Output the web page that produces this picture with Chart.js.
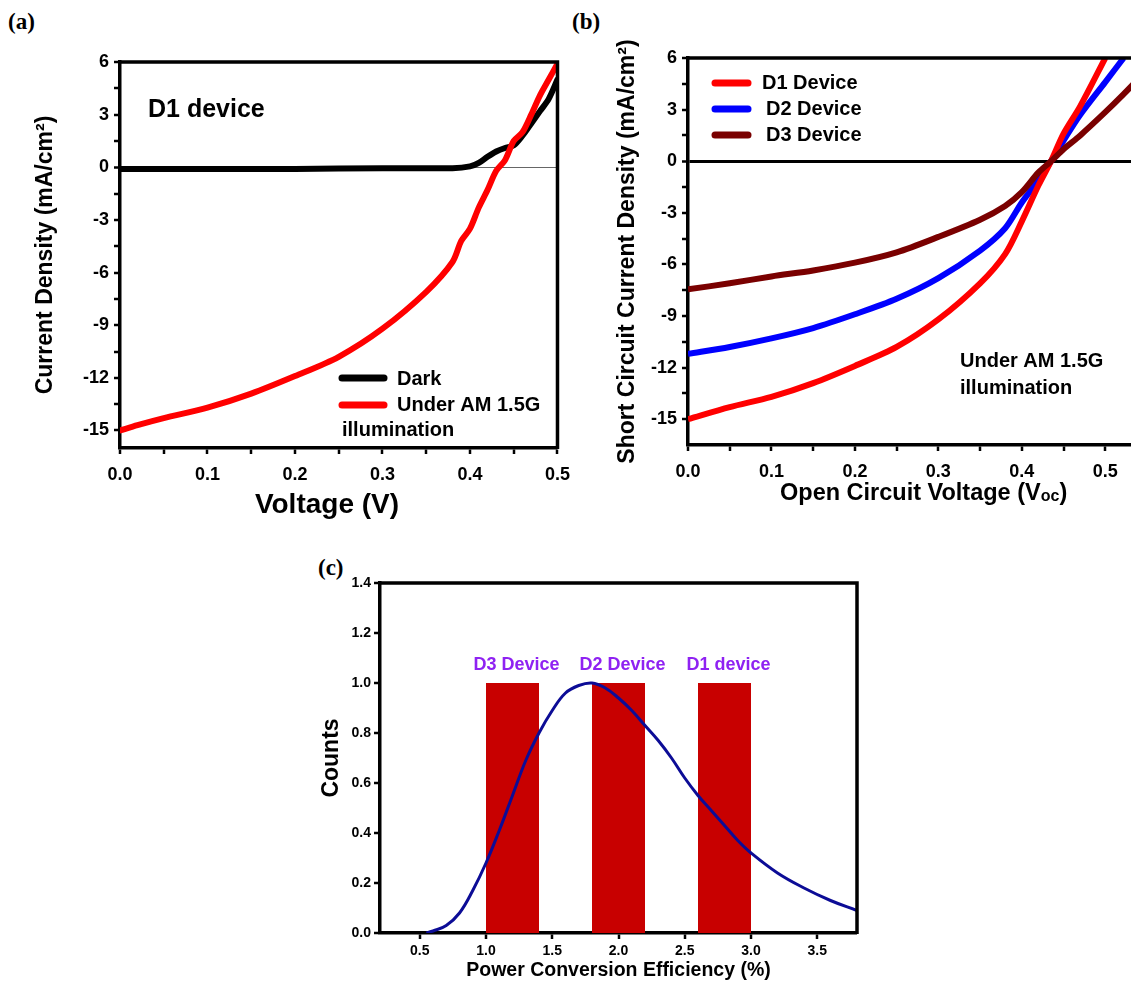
<!DOCTYPE html>
<html>
<head>
<meta charset="utf-8">
<script src="https://cdn.jsdelivr.net/npm/chart.js@4.4.1/dist/chart.umd.min.js"></script>
<style>
html, body { margin: 0; padding: 0; background: #fff; overflow: hidden; width: 1131px; height: 982px; position: relative; }
canvas { position: absolute; }
.tag { position: absolute; font: bold 23px "Liberation Serif", serif; color: #000; }
</style>
</head>
<body>
<div class="tag" style="left:8px;top:9px">(a)</div>
<div class="tag" style="left:572px;top:9px">(b)</div>
<div class="tag" style="left:318px;top:555px">(c)</div>
<canvas id="chartA" width="580" height="525" style="left:0;top:0"></canvas>
<canvas id="chartB" width="620" height="525" style="left:570px;top:0"></canvas>
<canvas id="chartC" width="580" height="437" style="left:300px;top:545px"></canvas>
<script>
// ---- (a) D1 device, dark vs light
var aVolt  = [0, 0.02, 0.05, 0.1, 0.15, 0.2, 0.25, 0.3, 0.35, 0.38, 0.39, 0.4, 0.41, 0.42, 0.43, 0.44, 0.45, 0.46, 0.47, 0.48, 0.49, 0.5];
var aLight = [-15, -14.7, -14.3, -13.7, -12.9, -11.9, -10.8, -9.2, -7.1, -5.4, -4.2, -3.5, -2.3, -1.3, -0.2, 0.4, 1.5, 2.0, 3.0, 4.1, 5.0, 5.9];
var darkVolt = [0, 0.1, 0.2, 0.3, 0.38, 0.4, 0.41, 0.42, 0.43, 0.44, 0.45, 0.46, 0.47, 0.48, 0.49, 0.5];
var aDark    = [-0.1, -0.1, -0.1, -0.05, -0.05, 0.05, 0.25, 0.6, 0.9, 1.1, 1.25, 1.8, 2.5, 3.2, 3.9, 5.0];
var aYTicks  = [-15, -13.5, -12, -10.5, -9, -7.5, -6, -4.5, -3, -1.5, 0, 1.5, 3, 4.5, 6];
var aYLabels = ['-15', '', '-12', '', '-9', '', '-6', '', '-3', '', '0', '', '3', '', '6'];
var aXTicks  = [0, 0.05, 0.1, 0.15, 0.2, 0.25, 0.3, 0.35, 0.4, 0.45, 0.5];
var aXLabels = ['0.0', '', '0.1', '', '0.2', '', '0.3', '', '0.4', '', '0.5'];

// ---- (b) three devices under AM 1.5G
var bVolt = [0, 0.05, 0.1, 0.15, 0.2, 0.25, 0.3, 0.35, 0.38, 0.4, 0.42, 0.435, 0.45, 0.47, 0.5, 0.522, 0.55];
var d1J = [-15, -14.3, -13.7, -12.9, -11.9, -10.8, -9.2, -7.1, -5.4, -3.5, -1.4, 0, 1.6, 3.2, 6.0, null, null];
var d2J = [-11.2, -10.8, -10.3, -9.7, -8.9, -8.0, -6.8, -5.2, -3.9, -2.4, -1.1, 0, 1.2, 2.7, 4.6, 6.0, null];
var d3J = [-7.45, -7.1, -6.7, -6.35, -5.9, -5.3, -4.4, -3.4, -2.6, -1.8, -0.65, 0, 0.7, 1.5, 2.85, 3.9, 5.3];
var bNames = ['D1 Device', 'D2 Device', 'D3 Device'];
var bYTicks  = [-15, -13.5, -12, -10.5, -9, -7.5, -6, -4.5, -3, -1.5, 0, 1.5, 3, 4.5, 6];
var bYLabels = ['-15', '', '-12', '', '-9', '', '-6', '', '-3', '', '0', '', '3', '', '6'];
var bXTicks  = [0, 0.05, 0.1, 0.15, 0.2, 0.25, 0.3, 0.35, 0.4, 0.45, 0.5, 0.55];
var bXLabels = ['0.0', '', '0.1', '', '0.2', '', '0.3', '', '0.4', '', '0.5', ''];

// ---- (c) PCE histogram + fit
var binLo  = [1.0, 1.8, 2.6];
var binHi  = [1.4, 2.2, 3.0];
var counts = [1, 1, 1];
var binNames = ['D3 Device', 'D2 Device', 'D1 device'];
var fitX = [0.55, 0.6, 0.7, 0.8, 0.9, 1.0, 1.1, 1.2, 1.3, 1.4, 1.5, 1.6, 1.7, 1.8, 1.9, 2.0, 2.1, 2.2, 2.3, 2.4, 2.5, 2.6, 2.7, 2.8, 2.9, 3.0, 3.2, 3.4, 3.6, 3.8];
var fitY = [0, 0.008, 0.03, 0.08, 0.17, 0.28, 0.41, 0.55, 0.69, 0.8, 0.89, 0.96, 0.99, 1.0, 0.98, 0.94, 0.89, 0.83, 0.77, 0.7, 0.62, 0.55, 0.49, 0.43, 0.37, 0.32, 0.24, 0.18, 0.13, 0.09];
var cYTicks  = [0, 0.2, 0.4, 0.6, 0.8, 1.0, 1.2, 1.4];
var cYLabels = ['0.0', '0.2', '0.4', '0.6', '0.8', '1.0', '1.2', '1.4'];
var cXTicks  = [0.5, 1.0, 1.5, 2.0, 2.5, 3.0, 3.5];
var cXLabels = ['0.5', '1.0', '1.5', '2.0', '2.5', '3.0', '3.5'];

var FONT = '"Liberation Sans", Arial, sans-serif';

function pts(xs, ys) {
	return xs.map(function (x, i) { return { x: x, y: ys[i] }; }).filter(function (p) { return p.y !== null; });
}

// box round the plot (top + right sides, axes draw the rest)
var framePlugin = {
	id: 'frame',
	afterDatasetsDraw: function (chart, args, opts) {
		var a = chart.chartArea, ctx = chart.ctx;
		ctx.save();
		ctx.strokeStyle = '#000';
		ctx.lineWidth = opts.width || 3.5;
		ctx.beginPath();
		ctx.moveTo(a.left - 1, a.top);
		ctx.lineTo(a.right, a.top);
		ctx.lineTo(a.right, a.bottom + 1);
		ctx.stroke();
		ctx.restore();
	}
};

// free text, legend samples, titles with subscripts
var notesPlugin = {
	id: 'notes',
	afterDraw: function (chart, args, opts) {
		var ctx = chart.ctx;
		(opts.items || []).forEach(function (it) {
			ctx.save();
			if (it.line) {
				ctx.strokeStyle = it.line;
				ctx.lineWidth = it.width || 7;
				ctx.lineCap = 'round';
				ctx.beginPath();
				ctx.moveTo(it.x1, it.y);
				ctx.lineTo(it.x2, it.y);
				ctx.stroke();
			}
			if (it.text) {
				ctx.fillStyle = it.color || '#000';
				ctx.font = 'bold ' + it.size + 'px ' + FONT;
				ctx.textBaseline = 'middle';
				ctx.textAlign = it.align || 'left';
				ctx.fillText(it.text, it.x, it.y);
			}
			if (it.runs) {
				ctx.fillStyle = '#000';
				ctx.textBaseline = 'alphabetic';
				ctx.textAlign = 'left';
				var x = it.x;
				it.runs.forEach(function (r) {
					ctx.font = 'bold ' + r.size + 'px ' + FONT;
					ctx.fillText(r.text, x, it.y + (r.dy || 0));
					x += ctx.measureText(r.text).width;
				});
			}
			ctx.restore();
		});
	}
};

// device names above the histogram bars
var binLabelPlugin = {
	id: 'binLabels',
	afterDatasetsDraw: function (chart, args, opts) {
		if (!opts.names) return;
		var ctx = chart.ctx, xs = chart.scales.x, ys = chart.scales.y;
		ctx.save();
		ctx.fillStyle = opts.color;
		ctx.font = 'bold ' + opts.size + 'px ' + FONT;
		ctx.textAlign = 'center';
		ctx.textBaseline = 'middle';
		opts.names.forEach(function (n, i) {
			var cx = xs.getPixelForValue((binLo[i] + binHi[i]) / 2 + 0.03);
			var cy = ys.getPixelForValue(counts[i]) - opts.gap;
			ctx.fillText(n, cx, cy);
		});
		ctx.restore();
	}
};

Chart.register(framePlugin, notesPlugin, binLabelPlugin);

function axis(kind, o) {
	return {
		type: 'linear',
		min: o.min,
		max: o.max,
		offset: false,
		afterBuildTicks: function (s) { s.ticks = o.ticks.map(function (v) { return { value: v }; }); },
		afterFit: function (s) { if (kind === 'x') s.height = o.size; else s.width = o.size; },
		ticks: {
			autoSkip: false, maxRotation: 0, minRotation: 0, color: '#000', padding: o.labelPad,
			font: { family: FONT, weight: 'bold', size: o.fontSize },
			callback: function (v, i) { return o.labels[i]; }
		},
		grid: {
			drawOnChartArea: !!o.zero,
			color: function (c) { return (o.zero && c.tick && c.tick.value === 0) ? o.zero.color : 'rgba(0,0,0,0)'; },
			lineWidth: function (c) { return (o.zero && c.tick && c.tick.value === 0) ? o.zero.width : 0; },
			tickColor: '#000', tickWidth: 2.5, tickLength: 6
		},
		border: { display: true, color: '#000', width: 3.5 },
		title: {
			display: !!o.title, text: o.title || '', color: '#000', padding: o.titlePad,
			font: { family: FONT, weight: 'bold', size: o.titleSize || 12, lineHeight: 1.2 }
		}
	};
}

// ---------- panel (a)
new Chart(document.getElementById('chartA'), {
	type: 'line',
	data: {
		datasets: [
			{ label: 'Under AM 1.5G illumination', data: pts(aVolt, aLight), borderColor: '#ff0000', borderWidth: 6, pointRadius: 0, tension: 0.3, borderCapStyle: 'round' },
			{ label: 'Dark', data: pts(darkVolt, aDark), borderColor: '#000000', borderWidth: 6, pointRadius: 0, tension: 0.3, borderCapStyle: 'round' }
		]
	},
	options: {
		responsive: false, animation: false,
		layout: { padding: { left: 0, top: 62, right: 20, bottom: 0 } },
		scales: {
			x: axis('x', { min: 0, max: 0.5, ticks: aXTicks, labels: aXLabels, fontSize: 18, labelPad: 10, size: 77 }),
			y: axis('y', { min: -16, max: 6, ticks: aYTicks, labels: aYLabels, fontSize: 18, labelPad: 5, size: 120,
				title: 'Current Density (mA/cm²)', titleSize: 23, titlePad: { top: 32, bottom: 0 },
				zero: { color: '#666', width: 1 } })
		},
		plugins: {
			legend: { display: false }, tooltip: { enabled: false },
			frame: { width: 3.5 },
			notes: { items: [
				{ text: 'Voltage (V)', x: 327, y: 505, size: 28, align: 'center' },
				{ text: 'D1 device', x: 148, y: 110, size: 25 },
				{ line: '#000000', x1: 342, x2: 384, y: 378, width: 7 },
				{ text: 'Dark', x: 397, y: 379, size: 20 },
				{ line: '#ff0000', x1: 342, x2: 384, y: 405, width: 7 },
				{ text: 'Under AM 1.5G', x: 397, y: 405, size: 20 },
				{ text: 'illumination', x: 342, y: 430, size: 20 }
			] }
		}
	}
});

// ---------- panel (b)
new Chart(document.getElementById('chartB'), {
	type: 'line',
	data: {
		datasets: [
			{ label: bNames[0], data: pts(bVolt, d1J), borderColor: '#ff0000', borderWidth: 6, pointRadius: 0, tension: 0.3, order: 1 },
			{ label: bNames[1], data: pts(bVolt, d2J), borderColor: '#0000ff', borderWidth: 6, pointRadius: 0, tension: 0.3, order: 2 },
			{ label: bNames[2], data: pts(bVolt, d3J), borderColor: '#7a0000', borderWidth: 6, pointRadius: 0, tension: 0.3, order: 0 }
		]
	},
	options: {
		responsive: false, animation: false,
		layout: { padding: { left: 0, top: 58, right: 43, bottom: 0 } },
		scales: {
			x: axis('x', { min: 0, max: 0.55, ticks: bXTicks, labels: bXLabels, fontSize: 18, labelPad: 10, size: 80 }),
			y: axis('y', { min: -16.5, max: 6, ticks: bYTicks, labels: bYLabels, fontSize: 18, labelPad: 5, size: 118,
				title: 'Short Circuit Current Density (mA/cm²)', titleSize: 23, titlePad: { top: 44, bottom: 0 },
				zero: { color: '#000', width: 3 } })
		},
		plugins: {
			legend: { display: false }, tooltip: { enabled: false },
			frame: { width: 3.5 },
			notes: { items: [
				{ runs: [ { text: 'Open Circuit Voltage (V', size: 23.5 }, { text: 'oc', size: 16, dy: 1 }, { text: ')', size: 23.5 } ], x: 210, y: 500 },
				{ line: '#ff0000', x1: 145, x2: 178, y: 83, width: 7 },
				{ text: bNames[0], x: 192, y: 83, size: 20 },
				{ line: '#0000ff', x1: 145, x2: 178, y: 109, width: 7 },
				{ text: bNames[1], x: 196, y: 109, size: 20 },
				{ line: '#7a0000', x1: 145, x2: 178, y: 135, width: 7 },
				{ text: bNames[2], x: 196, y: 135, size: 20 },
				{ text: 'Under AM 1.5G', x: 390, y: 361, size: 20 },
				{ text: 'illumination', x: 390, y: 388, size: 20 }
			] }
		}
	}
});

// ---------- panel (c)
var cSets = [
	{ label: 'fit', data: pts(fitX, fitY), borderColor: '#0c0c96', borderWidth: 3, pointRadius: 0, tension: 0.4, fill: false }
];
binLo.forEach(function (lo, i) {
	cSets.push({
		label: binNames[i],
		data: [{ x: lo, y: 0 }, { x: lo, y: counts[i] }, { x: binHi[i], y: counts[i] }, { x: binHi[i], y: 0 }],
		borderWidth: 0, borderColor: 'rgba(0,0,0,0)', backgroundColor: '#c80000', pointRadius: 0, tension: 0, fill: 'origin'
	});
});

new Chart(document.getElementById('chartC'), {
	type: 'line',
	data: { datasets: cSets },
	options: {
		responsive: false, animation: false,
		layout: { padding: { left: 0, top: 38, right: 23, bottom: 0 } },
		scales: {
			x: axis('x', { min: 0.2, max: 3.8, ticks: cXTicks, labels: cXLabels, fontSize: 14, labelPad: 4, size: 49,
				title: 'Power Conversion Efficiency (%)', titleSize: 19.5, titlePad: { top: 0, bottom: 0 } }),
			y: axis('y', { min: 0, max: 1.4, ticks: cYTicks, labels: cYLabels, fontSize: 14, labelPad: 3, size: 80,
				title: 'Counts', titleSize: 23, titlePad: { top: 18, bottom: 0 } })
		},
		plugins: {
			legend: { display: false }, tooltip: { enabled: false },
			frame: { width: 3.5 },
			binLabels: { names: binNames, color: '#8f22f2', size: 18, gap: 18 }
		}
	}
});
</script>
</body>
</html>
